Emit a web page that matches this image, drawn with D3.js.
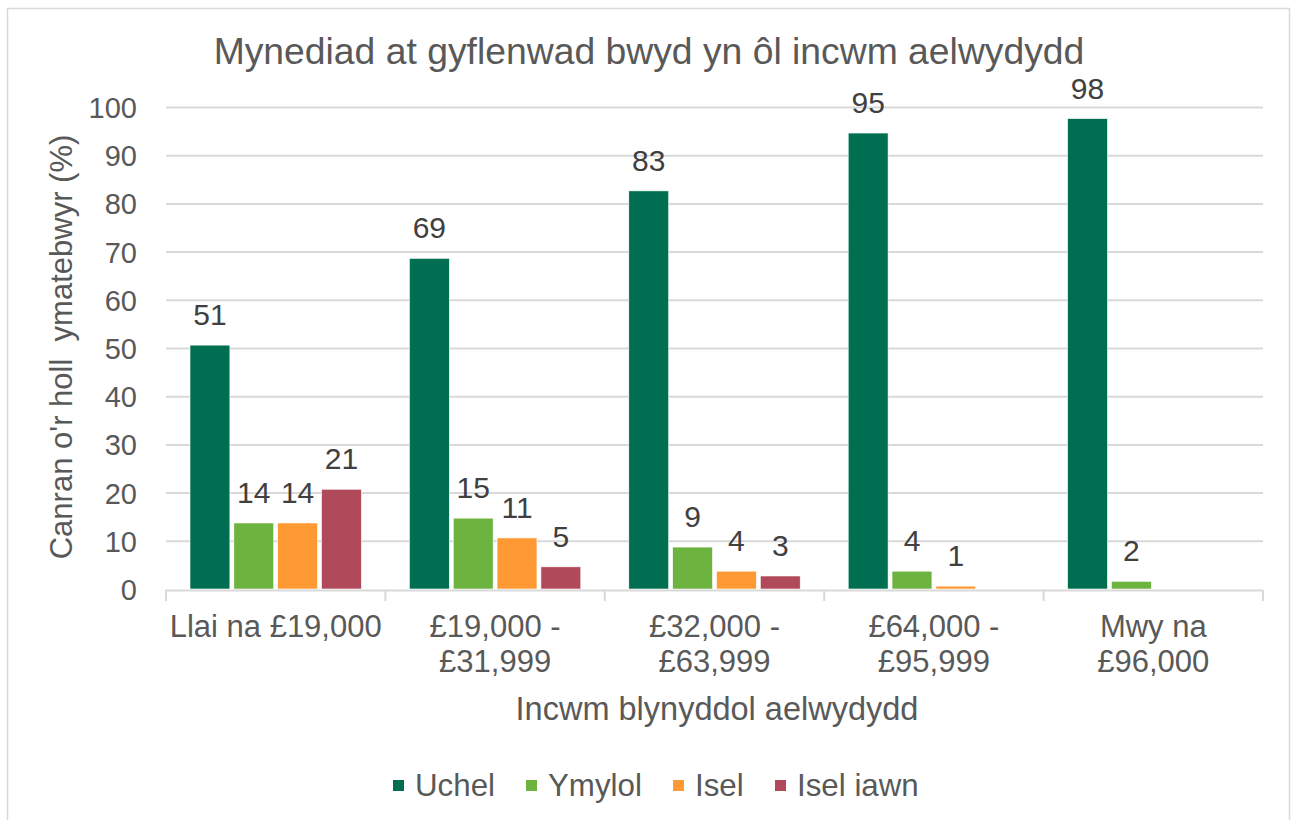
<!DOCTYPE html>
<html><head><meta charset="utf-8">
<script src="https://cdn.jsdelivr.net/npm/d3@7"></script>
<style>
html,body{margin:0;padding:0;background:#fff;}
svg{display:block;font-family:"Liberation Sans",Arial,sans-serif;}
</style></head>
<body>
<svg id="chart" width="1291" height="820"></svg>
<script>
const categories = [["Llai na £19,000"], ["£19,000 -", "£31,999"], ["£32,000 -", "£63,999"], ["£64,000 -", "£95,999"], ["Mwy na", "£96,000"]];
const seriesNames = ["Uchel", "Ymylol", "Isel", "Isel iawn"];
const uchel = [50.6, 68.6, 82.6, 94.6, 97.6];
const ymylol = [13.7, 14.7, 8.7, 3.7, 1.6];
const isel = [13.7, 10.6, 3.7, 0.6, null];
const iselIawn = [20.7, 4.6, 2.7, null, null];
const labelsUchel = ["51", "69", "83", "95", "98"];
const labelsYmylol = ["14", "15", "9", "4", "2"];
const labelsIsel = ["14", "11", "4", "1", null];
const labelsIselIawn = ["21", "5", "3", null, null];
const yTicks = [0, 10, 20, 30, 40, 50, 60, 70, 80, 90, 100];
const colors = ["#006f51", "#6db33f", "#ff9933", "#b04a5a"];

const series = [uchel, ymylol, isel, iselIawn];
const seriesLabels = [labelsUchel, labelsYmylol, labelsIsel, labelsIselIawn];

const svg = d3.select("#chart");
svg.append("rect").attr("x", 7.5).attr("y", 8.5).attr("width", 1282).attr("height", 830)
  .attr("fill", "#fff").attr("stroke", "#d9d9d9").attr("stroke-width", 1.5);

const pLeft = 166, pRight = 1263, pTop = 107, pBottom = 589;
const x0 = d3.scaleBand().domain(d3.range(categories.length)).range([pLeft, pRight]).paddingInner(0).paddingOuter(0);
const x1 = d3.scaleBand().domain(d3.range(seriesNames.length)).range([24, x0.bandwidth() - 24]).paddingInner(0.09).paddingOuter(0);
const y = d3.scaleLinear().domain([0, 100]).range([pBottom, pTop]);

// gridlines
svg.append("g").selectAll("line").data(yTicks.filter(d => d > 0)).join("line")
  .attr("x1", pLeft).attr("x2", pRight).attr("y1", d => y(d) + 0.5).attr("y2", d => y(d) + 0.5)
  .attr("stroke", "#d9d9d9").attr("stroke-width", 2);

// y axis labels
const yAxis = d3.axisLeft(y).tickValues(yTicks).tickSize(0).tickPadding(0);
const yg = svg.append("g").attr("transform", `translate(137,0)`).call(yAxis);
yg.select(".domain").remove();
yg.selectAll("text").attr("font-size", 29).attr("fill", "#595959").attr("font-family", "Liberation Sans, Arial, sans-serif").attr("dy", "0.36em");

// bars
const groups = svg.append("g").selectAll("g").data(categories.map((c, i) => i)).join("g")
  .attr("transform", i => `translate(${x0(i)},0)`);
groups.each(function(ci) {
  const g = d3.select(this);
  series.forEach((s, si) => {
    const v = s[ci];
    if (v === null) return;
    g.append("rect").attr("x", x1(si)).attr("width", x1.bandwidth())
      .attr("y", y(v)).attr("height", y(0) - y(v)).attr("fill", colors[si])
      .attr("stroke", "#ffffff").attr("stroke-width", 0.6);
    const lab = seriesLabels[si][ci];
    if (lab !== null) {
      g.append("text").attr("x", x1(si) + x1.bandwidth() / 2).attr("y", y(v) - 20)
        .attr("text-anchor", "middle").attr("font-size", 30).attr("fill", "#404040").text(lab);
    }
  });
});

// x axis
svg.append("line").attr("x1", pLeft).attr("x2", pRight).attr("y1", pBottom + 1.5).attr("y2", pBottom + 1.5)
  .attr("stroke", "#d9d9d9").attr("stroke-width", 2);
const boundaries = d3.range(categories.length + 1).map(i => pLeft + i * x0.bandwidth());
svg.append("g").selectAll("line").data(boundaries).join("line")
  .attr("x1", d => d).attr("x2", d => d).attr("y1", pBottom + 1).attr("y2", pBottom + 12)
  .attr("stroke", "#d9d9d9").attr("stroke-width", 2);

const xl = svg.append("g").selectAll("text").data(categories).join("text")
  .attr("x", (d, i) => x0(i) + x0.bandwidth() / 2).attr("y", 637)
  .attr("text-anchor", "middle").attr("font-size", 31).attr("fill", "#595959");
xl.each(function(d) {
  const t = d3.select(this);
  d.forEach((line, li) => {
    t.append("tspan").attr("x", t.attr("x")).attr("dy", li === 0 ? 0 : 35).text(line);
  });
});

// axis titles
svg.append("text").attr("x", 717).attr("y", 720).attr("text-anchor", "middle")
  .attr("font-size", 32.5).attr("fill", "#595959").text("Incwm blynyddol aelwydydd");
svg.append("text").attr("transform", "translate(72,347) rotate(-90)").attr("text-anchor", "middle")
  .attr("font-size", 31).attr("fill", "#595959").attr("xml:space", "preserve").text("Canran o'r holl  ymatebwyr (%)");

// title
svg.append("text").attr("x", 649).attr("y", 64).attr("text-anchor", "middle")
  .attr("font-size", 37.3).attr("fill", "#595959").text("Mynediad at gyflenwad bwyd yn ôl incwm aelwydydd");

// legend
const legendX = [393, 526, 673, 775];
const lg = svg.append("g").selectAll("g").data(seriesNames).join("g")
  .attr("transform", (d, i) => `translate(${legendX[i]},0)`);
lg.append("rect").attr("x", 0).attr("y", 780).attr("width", 11).attr("height", 11)
  .attr("fill", (d, i) => colors[i]);
lg.append("text").attr("x", 22).attr("y", 796).attr("font-size", 31.3).attr("fill", "#595959").text(d => d);
</script>
</body></html>
